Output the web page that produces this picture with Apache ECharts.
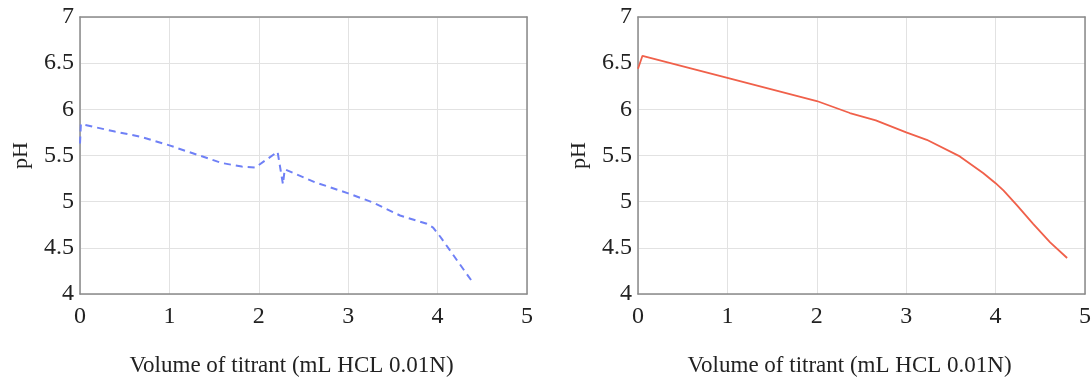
<!DOCTYPE html>
<html>
<head>
<meta charset="utf-8">
<script src="https://cdn.jsdelivr.net/npm/echarts@6/dist/echarts.min.js"></script>
<style>
  html, body { margin: 0; padding: 0; background: #fff; }
  #main { width: 1091px; height: 377px; }
</style>
</head>
<body>
<div id="main"></div>
<script>
// volume of titrant (mL) vs pH
const leftVolume = [0, 0.01, 0.39, 0.69, 1.0, 1.21, 1.43, 1.58, 1.81, 1.96, 2.21, 2.27, 2.29, 2.63, 3.0, 3.28, 3.58, 3.88, 3.95, 4.03, 4.39];
const leftPH = [5.63, 5.84, 5.76, 5.70, 5.61, 5.54, 5.47, 5.42, 5.38, 5.37, 5.54, 5.19, 5.35, 5.21, 5.09, 4.99, 4.85, 4.76, 4.72, 4.62, 4.13];

const rightVolume = [0, 0.05, 1.0, 2.0, 2.37, 2.66, 3.0, 3.23, 3.6, 3.86, 4.0, 4.09, 4.24, 4.42, 4.61, 4.8];
const rightPH = [6.44, 6.58, 6.34, 6.09, 5.96, 5.88, 5.75, 5.67, 5.49, 5.31, 5.2, 5.12, 4.96, 4.76, 4.56, 4.39];

const xTicks = [0, 1, 2, 3, 4, 5];
const yTicks = [4, 4.5, 5, 5.5, 6, 6.5, 7];

const xTitle = "Volume of titrant (mL HCL 0.01N)";
const yTitle = "pH";

const font = "'Liberation Serif', 'DejaVu Serif', serif";
const textColor = "#222";
const frameColor = "#8a8a8a";
const gridColor = "#e2e2e2";

const pairs = (xs, ys) => xs.map((x, i) => [x, ys[i]]);

const grids = [
  { left: 80, top: 17, width: 447, height: 277, containLabel: false, outerBoundsMode: "none" },
  { left: 638, top: 17, width: 447, height: 277, containLabel: false, outerBoundsMode: "none" },
];

const xAxes = [];
const yAxes = [];
grids.forEach((g, i) => {
  xAxes.push({
    type: "value",
    gridIndex: i,
    min: xTicks[0],
    max: xTicks[xTicks.length - 1],
    interval: 1,
    name: xTitle,
    nameLocation: "middle",
    nameGap: 60,
    nameTextStyle: { fontFamily: font, fontSize: 23, color: textColor, padding: [0, 24, 0, 0] },
    axisLine: { show: true, onZero: false, lineStyle: { color: frameColor, width: 1.5 } },
    axisTick: { show: false },
    axisLabel: { fontFamily: font, fontSize: 24, color: textColor, margin: 11 },
    splitLine: { show: true, lineStyle: { color: gridColor, width: 1 } },
  });
  xAxes.push({
    type: "value",
    gridIndex: i,
    position: "top",
    min: xTicks[0],
    max: xTicks[xTicks.length - 1],
    interval: 1,
    axisLine: { show: true, onZero: false, lineStyle: { color: frameColor, width: 1.5 } },
    axisTick: { show: false },
    axisLabel: { show: false },
    splitLine: { show: false },
  });
  yAxes.push({
    type: "value",
    gridIndex: i,
    min: yTicks[0],
    max: yTicks[yTicks.length - 1],
    interval: 0.5,
    name: yTitle,
    nameLocation: "middle",
    nameGap: 48,
    nameTextStyle: { fontFamily: font, fontSize: 22, color: textColor },
    axisLine: { show: true, onZero: false, lineStyle: { color: frameColor, width: 1.5 } },
    axisTick: { show: false },
    axisLabel: { fontFamily: font, fontSize: 24, color: textColor, margin: 6 },
    splitLine: { show: true, lineStyle: { color: gridColor, width: 1 } },
  });
  yAxes.push({
    type: "value",
    gridIndex: i,
    position: "right",
    min: yTicks[0],
    max: yTicks[yTicks.length - 1],
    interval: 0.5,
    axisLine: { show: true, onZero: false, lineStyle: { color: frameColor, width: 1.5 } },
    axisTick: { show: false },
    axisLabel: { show: false },
    splitLine: { show: false },
  });
});

const chart = echarts.init(document.getElementById("main"), null, { renderer: "canvas" });

chart.setOption({
  backgroundColor: "#fff",
  animation: false,
  grid: grids,
  xAxis: xAxes,
  yAxis: yAxes,
  series: [
    {
      type: "line",
      xAxisIndex: 0,
      yAxisIndex: 0,
      data: pairs(leftVolume, leftPH),
      showSymbol: false,
      color: "#6f80f6",
      lineStyle: { width: 2, type: [7, 5] },
    },
    {
      type: "line",
      xAxisIndex: 2,
      yAxisIndex: 2,
      data: pairs(rightVolume, rightPH),
      showSymbol: false,
      color: "#f0604a",
      lineStyle: { width: 1.8 },
    },
  ],
});
</script>
</body>
</html>
